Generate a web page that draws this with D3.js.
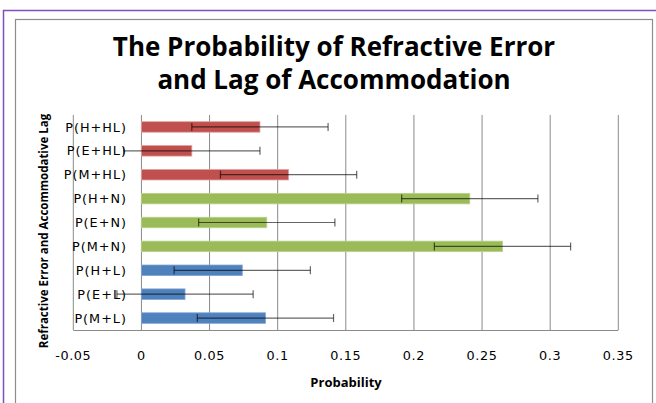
<!DOCTYPE html>
<html>
<head>
<meta charset="utf-8">
<script src="https://cdn.jsdelivr.net/npm/d3@7"></script>
<style>
  body { margin: 0; background: #fff; }
  svg text { fill: #000; }
</style>
</head>
<body>
<div id="chart"></div>
<script>
// categories, top to bottom as drawn
const categories = ["P(H+HL)", "P(E+HL)", "P(M+HL)", "P(H+N)", "P(E+N)", "P(M+N)", "P(H+L)", "P(E+L)", "P(M+L)"];
const values = [0.087, 0.037, 0.108, 0.241, 0.092, 0.265, 0.074, 0.032, 0.091];
const errors = [0.05, 0.05, 0.05, 0.05, 0.05, 0.05, 0.05, 0.05, 0.05];
const groups = ["HL", "HL", "HL", "N", "N", "N", "L", "L", "L"];
const xTicks = [-0.05, 0, 0.05, 0.1, 0.15, 0.2, 0.25, 0.3, 0.35];

const width = 656, height = 403;

const svg = d3.select("#chart")
  .append("svg")
  .attr("width", width)
  .attr("height", height);

// outer purple frame and inner chart area border
svg.append("rect")
  .attr("x", 3.5).attr("y", 10.5)
  .attr("width", 700).attr("height", 420)
  .attr("fill", "#fff")
  .attr("stroke", "#7f4fbf")
  .attr("stroke-width", 1.5);
svg.append("rect")
  .attr("x", 15.5).attr("y", 19.5)
  .attr("width", 637).attr("height", 420)
  .attr("fill", "#fff")
  .attr("stroke", "#8c8c8c")
  .attr("stroke-width", 1.2);

const x = d3.scaleLinear().domain([-0.05, 0.35]).range([73.3, 618.3]);
const y = d3.scaleBand().domain(categories).range([115, 330]).paddingInner(0.56).paddingOuter(0.28);

const color = d3.scaleOrdinal()
  .domain(["HL", "N", "L"])
  .range(["#c0504d", "#9bbb59", "#4f81bd"]);
const edge = d3.scaleOrdinal()
  .domain(["HL", "N", "L"])
  .range(["#e0a09e", "#b9d28a", "#7fa3d3"]);

// vertical gridlines
svg.append("g")
  .selectAll("line")
  .data(xTicks)
  .join("line")
  .attr("x1", d => x(d)).attr("x2", d => x(d))
  .attr("y1", 115).attr("y2", 330)
  .attr("stroke", "#8a8a8a")
  .attr("stroke-width", 1);

// bottom axis line
svg.append("line")
  .attr("x1", x(-0.05)).attr("x2", x(0.35))
  .attr("y1", 330.5).attr("y2", 330.5)
  .attr("stroke", "#8a8a8a");

// bars
svg.append("g")
  .selectAll("rect")
  .data(categories)
  .join("rect")
  .attr("x", x(0))
  .attr("y", d => y(d))
  .attr("width", (d, i) => x(values[i]) - x(0))
  .attr("height", y.bandwidth())
  .attr("fill", (d, i) => color(groups[i]))
  .attr("stroke", (d, i) => edge(groups[i]))
  .attr("stroke-width", 0.8);

// error bars
const err = svg.append("g")
  .attr("stroke", "#000")
  .attr("stroke-opacity", 0.6)
  .attr("stroke-width", 1.2);
categories.forEach((c, i) => {
  const cy = y(c) + y.bandwidth() / 2;
  const lo = x(values[i] - errors[i]), hi = x(values[i] + errors[i]);
  err.append("line").attr("x1", lo).attr("x2", hi).attr("y1", cy).attr("y2", cy);
  err.append("line").attr("x1", lo).attr("x2", lo).attr("y1", cy - 4).attr("y2", cy + 4);
  err.append("line").attr("x1", hi).attr("x2", hi).attr("y1", cy - 4).attr("y2", cy + 4);
});

// category labels
svg.append("g")
  .selectAll("text")
  .data(categories)
  .join("text")
  .attr("x", 127)
  .attr("y", d => y(d) + y.bandwidth() / 2)
  .attr("dy", "0.36em")
  .attr("text-anchor", "end")
  .style("font-family", "DejaVu Sans")
  .style("font-size", "12.8px")
  .style("letter-spacing", "1px")
  .text(d => d);

// x tick labels (plain hyphen minus as in the original)
svg.append("g")
  .selectAll("text")
  .data(xTicks)
  .join("text")
  .attr("x", d => x(d))
  .attr("y", 355)
  .attr("dy", "0.36em")
  .attr("text-anchor", "middle")
  .style("font-family", "DejaVu Sans")
  .style("font-size", "12.8px")
  .style("letter-spacing", "0.6px")
  .text(d => String(d));

// titles
const title = svg.append("text")
  .attr("text-anchor", "middle")
  .style("font-family", "Open Sans")
  .style("font-weight", "bold")
  .style("font-size", "26px");
title.append("tspan").attr("x", 334).attr("y", 56).text("The Probability of Refractive Error");
title.append("tspan").attr("x", 334).attr("y", 89).text("and Lag of Accommodation");

svg.append("text")
  .attr("x", 346).attr("y", 387)
  .attr("text-anchor", "middle")
  .style("font-family", "Open Sans")
  .style("font-weight", "bold")
  .style("font-size", "13px")
  .text("Probability");

svg.append("text")
  .attr("transform", "translate(48,231) rotate(-90)")
  .attr("text-anchor", "middle")
  .style("font-family", "Open Sans")
  .style("font-weight", "bold")
  .style("font-size", "11.5px")
  .text("Refractive Error and Accommodative Lag");
</script>
</body>
</html>
